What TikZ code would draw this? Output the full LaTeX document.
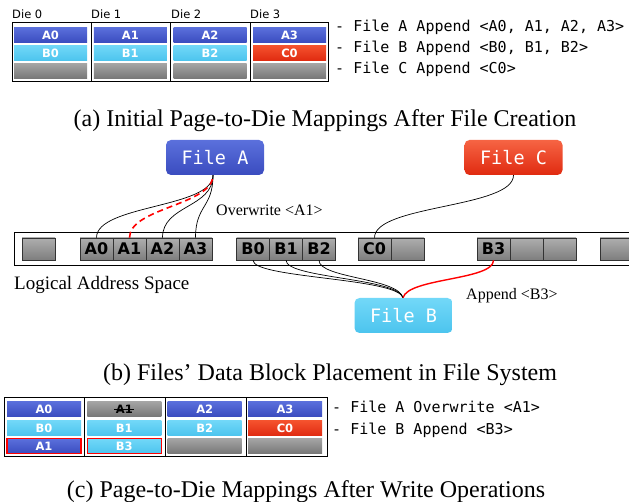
\documentclass[tikz,border=0pt]{standalone}
\usepackage{fontspec}
\setmainfont{Liberation Serif}
\newfontfamily\sansf{DejaVu Sans}
\newfontfamily\monof{DejaVu Sans Mono}
\definecolor{blueT}{HTML}{5B70DC}
\definecolor{blueB}{HTML}{3A4CBF}
\definecolor{cyanT}{HTML}{72D8F8}
\definecolor{cyanB}{HTML}{4CC4EE}
\definecolor{redT}{HTML}{F5532F}
\definecolor{redB}{HTML}{E02A10}
\definecolor{grayT}{HTML}{A5A5A5}
\definecolor{grayB}{HTML}{777777}
\begin{document}
\begin{tikzpicture}[x=1pt,y=-1pt,
  cell/.style={rectangle, minimum width=73pt, minimum height=15.5pt, inner sep=0pt, text=white,
    font=\sansf\bfseries\fontsize{11.5}{12}\selectfont},
  ccellw/.style={cell, minimum width=74pt},
  acol/.style={top color=blueT, bottom color=blueB},
  bcol/.style={top color=cyanT, bottom color=cyanB},
  ccol/.style={top color=redT, bottom color=redB},
  gcol/.style={top color=grayT, bottom color=grayB},
  frame/.style={draw=black, line width=1pt},
  dielabel/.style={anchor=west, inner sep=0pt, font=\sansf\fontsize{11.5}{12}\selectfont},
  legend/.style={anchor=base west, inner sep=0pt, font=\monof\fontsize{15}{15}\selectfont},
  lblock/.style={draw=black!80, line width=0.6pt, top color=grayT!90, bottom color=grayB!95,
    minimum width=33pt, minimum height=22pt, inner sep=0pt, font=\sansf\bfseries\fontsize{16}{16}\selectfont},
  filebox/.style={rounded corners=5pt, minimum width=98pt, minimum height=35pt, inner sep=0pt,
    text=white, font=\monof\fontsize{18.5}{19}\selectfont},
  conn/.style={draw=black, line width=0.7pt},
  lab/.style={anchor=base west, inner sep=0pt, font=\fontsize{16}{16}\selectfont},
  caption/.style={anchor=base, inner sep=0pt, font=\fontsize{24}{24}\selectfont},
  redout/.style={draw=red, line width=1.3pt}
]
\useasboundingbox (0,0) rectangle (629,502);
\clip (0,0) rectangle (629,502);

% ---------------- (a) table ----------------
\node[dielabel] (d0) at (12,14) {Die 0};
\node[dielabel] (d1) at (91,14) {Die 1};
\node[dielabel] (d2) at (171,14) {Die 2};
\node[dielabel] (d3) at (250,14) {Die 3};

\node[cell,acol] (a00) at (50.5,35) {A0};
\node[cell,acol] (a10) at (130.3,35) {A1};
\node[cell,acol] (a20) at (210,35) {A2};
\node[cell,acol] (a30) at (289.5,35) {A3};
\node[cell,bcol] (a01) at (50.5,53) {B0};
\node[cell,bcol] (a11) at (130.3,53) {B1};
\node[cell,bcol] (a21) at (210,53) {B2};
\node[cell,ccol] (a31) at (289.5,53) {C0};
\node[cell,gcol] (a02) at (50.5,71) {};
\node[cell,gcol] (a12) at (130.3,71) {};
\node[cell,gcol] (a22) at (210,71) {};
\node[cell,gcol] (a32) at (289.5,71) {};
\draw[frame] (12,23) rectangle (328,82);
\draw[frame] (91,23) -- (91,82) (170,23) -- (170,82) (250,23) -- (250,82);

\node[legend] (la1) at (335,31.5) {- File A Append <A0, A1, A2, A3>};
\node[legend] (la2) at (335,53) {- File B Append <B0, B1, B2>};
\node[legend] (la3) at (335,74) {- File C Append <C0>};

\node[caption] (capa) at (325,127) {(a) Initial Page-to-Die Mappings After File Creation};

% ---------------- (b) logical address space ----------------
\draw[line width=1pt] (640,233) -- (14,233) -- (14,266) -- (640,266);

\node[lblock] (e0) at (38.5,249) {};
\node[lblock] (A0) at (96.5,249) {A0};
\node[lblock] (A1) at (129.5,249) {A1};
\node[lblock] (A2) at (162.5,249) {A2};
\node[lblock] (A3) at (195.5,249) {A3};
\node[lblock] (B0) at (253,249) {B0};
\node[lblock] (B1) at (286,249) {B1};
\node[lblock] (B2) at (319,249) {B2};
\node[lblock] (C0) at (374.5,249) {C0};
\node[lblock] (e1) at (407.5,249) {};
\node[lblock] (B3) at (493.5,249) {B3};
\node[lblock] (e2) at (526.5,249) {};
\node[lblock] (e3) at (559.5,249) {};
\node[lblock] (e4) at (616.5,249) {};

\node[filebox, top color=blueT, bottom color=blueB] (FA) at (215,157.5) {File A};
\node[filebox, top color=redT!90!white, bottom color=redB] (FC) at (513.5,157.5) {File C};
\node[filebox, top color=cyanT, bottom color=cyanB] (FB) at (403.5,315.5) {File B};

\coordinate (fa) at ([xshift=-2pt]FA.south);
\coordinate (fb) at ([xshift=-0.5pt]FB.north);

\draw[conn] (A0.north) .. controls +(0,-33) and +(0,33) .. (fa);
\draw[conn] (A2.north) .. controls +(0,-33) and +(0,33) .. (fa);
\draw[conn] (A3.north) .. controls +(0,-33) and +(0,33) .. (fa);
\draw[draw=red, line width=1.6pt, dash pattern=on 6pt off 4pt] (A1.north) .. controls +(0,-30) and +(0,30) .. (fa);

\draw[conn] (FC.south) .. controls +(0,33) and +(0,-33) .. (C0.north);

\draw[conn] (B0.south) .. controls +(0,18) and +(-5,-20) .. (fb);
\draw[conn] (B1.south) .. controls +(0,18) and +(-5,-20) .. (fb);
\draw[conn] (B2.south) .. controls +(0,18) and +(-5,-20) .. (fb);
\draw[draw=red, line width=1.4pt] (fb) .. controls +(5,-20) and +(0,20) .. (B3.south);

\node[lab] (ow) at (216,216) {Overwrite <A1>};
\node[lab] (ap) at (466,300) {Append <B3>};
\node[anchor=base west, inner sep=0pt, font=\fontsize{19}{19}\selectfont] (las) at (14,290) {Logical Address Space};

\node[caption] (capb) at (330,381) {(b) Files’ Data Block Placement in File System};

% ---------------- (c) table ----------------
\node[ccellw,acol] (c00) at (44,409) {A0};
\node[ccellw,gcol] (c10) at (124.3,409) {};
\node[inner sep=0.5pt, text=black, font=\sansf\bfseries\fontsize{11.5}{12}\selectfont] (c10t) at (c10.center) {A1};
\draw[line width=0.8pt] ([xshift=-1pt]c10t.west) -- ([xshift=1pt]c10t.east);
\node[ccellw,acol] (c20) at (204.7,409) {A2};
\node[ccellw,acol] (c30) at (285,409) {A3};
\node[ccellw,bcol] (c01) at (44,428) {B0};
\node[ccellw,bcol] (c11) at (124.3,428) {B1};
\node[ccellw,bcol] (c21) at (204.7,428) {B2};
\node[ccellw,ccol] (c31) at (285,428) {C0};
\node[ccellw,acol,redout] (c02) at (44,446) {A1};
\node[ccellw,bcol,redout] (c12) at (124.3,446) {B3};
\node[ccellw,gcol] (c22) at (204.7,446) {};
\node[ccellw,gcol] (c32) at (285,446) {};
\draw[frame] (4,397) rectangle (327,456);
\draw[frame] (84,397) -- (84,456) (165,397) -- (165,456) (246,397) -- (246,456);

\node[legend] (lc1) at (332,412.7) {- File A Overwrite <A1>};
\node[legend] (lc2) at (332,434.3) {- File B Append <B3>};

\node[caption] (capc) at (306,497) {(c) Page-to-Die Mappings After Write Operations};
\end{tikzpicture}
\end{document}
